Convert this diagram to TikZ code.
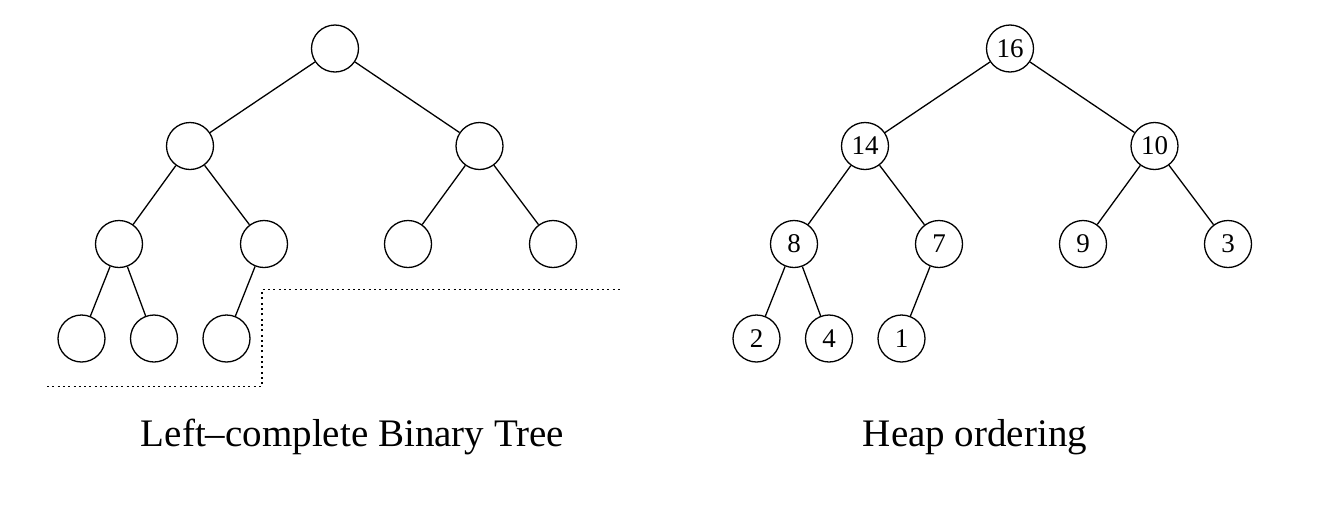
\documentclass[tikz,border=0pt]{standalone}
\usepackage{fontspec}
\setmainfont{Liberation Serif}
\begin{document}
\begin{tikzpicture}[x=1pt,y=-1pt,
  tn/.style={circle,draw,line width=1.3pt,minimum size=47pt,inner sep=0pt,font=\fontsize{27}{27}\selectfont},
  edge/.style={line width=1.3pt},
  dotline/.style={line width=1.3pt,dash pattern=on 2pt off 3.3pt},
  title/.style={anchor=base,inner sep=0pt,font=\fontsize{39}{39}\selectfont}]
\useasboundingbox (0,0) rectangle (1330,504);
% Left tree
\node[tn] (a) at (335,48.5) {};
\node[tn] (b) at (190,146) {};
\node[tn] (c) at (479.5,146) {};
\node[tn] (d) at (119,244) {};
\node[tn] (e) at (264,244) {};
\node[tn] (f) at (408,244) {};
\node[tn] (g) at (553,244) {};
\node[tn] (h) at (81.5,338.5) {};
\node[tn] (i) at (154,338.5) {};
\node[tn] (j) at (226.5,338.5) {};
\draw[edge] (a) -- (b) (a) -- (c) (b) -- (d) (b) -- (e) (c) -- (f) (c) -- (g)
  (d) -- (h) (d) -- (i) (e) -- (j);
\coordinate (d1) at (47,386.5);
\coordinate (d2) at (262,386.5);
\coordinate (d3) at (262,289.5);
\coordinate (d4) at (620,289.5);
\draw[dotline] (d1) -- (d2) -- (d3) -- (d4);
\node[title] (t1) at (352.5,446.5) {Left–complete Binary Tree};
% Right tree
\begin{scope}[xshift=675pt]
\node[tn] (A) at (335,48.5) {16};
\node[tn] (B) at (190,146) {14};
\node[tn] (C) at (479.5,146) {10};
\node[tn] (D) at (119,244) {8};
\node[tn] (E) at (264,244) {7};
\node[tn] (F) at (408,244) {9};
\node[tn] (G) at (553,244) {3};
\node[tn] (H) at (81.5,338.5) {2};
\node[tn] (I) at (154,338.5) {4};
\node[tn] (J) at (226.5,338.5) {1};
\end{scope}
\draw[edge] (A) -- (B) (A) -- (C) (B) -- (D) (B) -- (E) (C) -- (F) (C) -- (G)
  (D) -- (H) (D) -- (I) (E) -- (J);
\node[title] (t2) at (975,446) {Heap ordering};
\end{tikzpicture}
\end{document}
